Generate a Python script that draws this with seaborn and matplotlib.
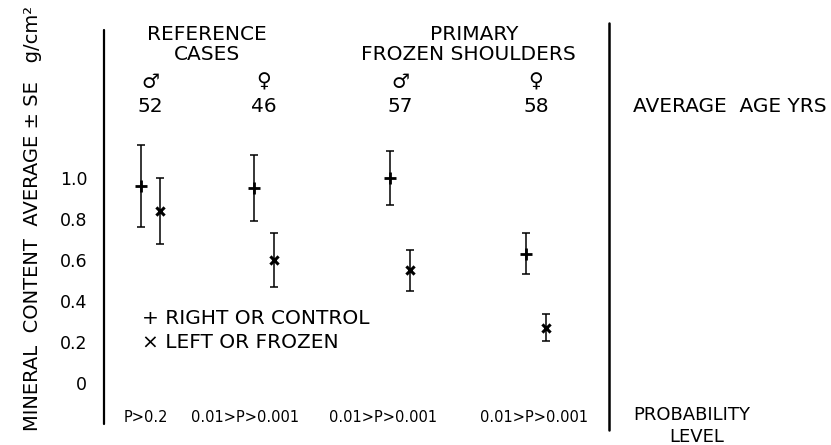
import matplotlib
matplotlib.use("Agg")
import matplotlib.pyplot as plt
import seaborn as sns
import pandas as pd
import numpy as np

# ---- data ----
groups = ["REF_M", "REF_F", "FROZ_M", "FROZ_F"]
sex_symbols = ["♂", "♀", "♂", "♀"]
ages = ["52", "46", "57", "58"]
right_mean = [0.96, 0.95, 1.00, 0.63]
right_se = [0.20, 0.16, 0.13, 0.10]
left_mean = [0.84, 0.60, 0.55, 0.27]
left_se = [0.16, 0.13, 0.10, 0.065]
p_levels = ["P>0.2", "0.01>P>0.001", "0.01>P>0.001", "0.01>P>0.001"]
ytick_vals = [0, 0.2, 0.4, 0.6, 0.8, 1.0]
ytick_labels = ["0", "0.2", "0.4", "0.6", "0.8", "1.0"]

# ---- layout ----
group_pos = [0.0, 1.0, 2.2, 3.4]
pair_offset = 0.088

sns.set_style("white")
plt.rcParams["font.family"] = ["DejaVu Sans"]
plt.rcParams["text.color"] = "black"
plt.rcParams["ytick.color"] = "black"
plt.rcParams["ytick.labelcolor"] = "black"

W, H = 831, 445
fig = plt.figure(figsize=(W / 100, H / 100), dpi=100)
ax_left, ax_right, ax_top, ax_bot = 104, 609, 23, 430
ax = fig.add_axes([ax_left / W, 1 - ax_bot / H, (ax_right - ax_left) / W, (ax_bot - ax_top) / H])

px_per_unit_x = 113.4
cx0 = 150.5
ax.set_xlim((ax_left - cx0) / px_per_unit_x, (ax_right - cx0) / px_per_unit_x)
zero_y, px_per_unit_y = 383, 205
ax.set_ylim(-(ax_bot - zero_y) / px_per_unit_y, (zero_y - ax_top) / px_per_unit_y)

rows = []
for i, g in enumerate(groups):
    rows.append(dict(group=g, side="right", xpos=group_pos[i] - pair_offset, mean=right_mean[i], se=right_se[i]))
    rows.append(dict(group=g, side="left", xpos=group_pos[i] + pair_offset, mean=left_mean[i], se=left_se[i]))
df = pd.DataFrame(rows)

ax.errorbar(df["xpos"], df["mean"], yerr=df["se"], fmt="none", ecolor="black",
            elinewidth=1.1, capsize=3.2, capthick=1.1)
sns.scatterplot(data=df[df.side == "right"], x="xpos", y="mean", marker="+", color="black",
                s=80, linewidth=2.0, ax=ax, legend=False, zorder=5)
sns.scatterplot(data=df[df.side == "left"], x="xpos", y="mean", marker="x", color="black",
                s=35, linewidth=2.2, ax=ax, legend=False, zorder=5)

for s in ax.spines.values():
    s.set_visible(False)
ax.set_xticks([])
ax.set_xlabel("")
ax.set_ylabel("")
ax.set_yticks(ytick_vals)
ax.set_yticklabels(ytick_labels, fontsize=12.5)
ax.tick_params(axis="y", length=0, pad=12)

# vertical rules
ax.axvline(ax.get_xlim()[0], ymin=(ax_bot - 424) / (ax_bot - ax_top), ymax=(ax_bot - 30) / (ax_bot - ax_top),
           color="black", lw=1.6, clip_on=False)
ax.axvline(ax.get_xlim()[1], ymin=0, ymax=1, color="black", lw=1.8, clip_on=False)

def yv(px):
    return (zero_y - px) / px_per_unit_y

fs = 14.5
# headers
ax.text((group_pos[0] + group_pos[1]) / 2, yv(35), "REFERENCE", ha="center", va="center", fontsize=fs)
ax.text((group_pos[0] + group_pos[1]) / 2, yv(55), "CASES", ha="center", va="center", fontsize=fs)
ax.text((group_pos[2] + group_pos[3]) / 2 + 0.05, yv(35), "PRIMARY", ha="center", va="center", fontsize=fs)
ax.text((group_pos[2] + group_pos[3]) / 2, yv(55), "FROZEN SHOULDERS", ha="center", va="center", fontsize=fs)
for i in range(len(groups)):
    ax.text(group_pos[i], yv(82), sex_symbols[i], ha="center", va="center", fontsize=fs, fontweight="bold")
    ax.text(group_pos[i], yv(107), ages[i], ha="center", va="center", fontsize=fs)

p_shift = [-0.04, -0.17, -0.15, -0.02]
for i in range(len(groups)):
    ax.text(group_pos[i] + p_shift[i], yv(417), p_levels[i], ha="center", va="center", fontsize=10.5)

# legend text
lx = (142 - cx0) / px_per_unit_x
ax.text(lx, yv(318), "+ RIGHT OR CONTROL", ha="left", va="center", fontsize=fs)
ax.text(lx, yv(343), "× LEFT OR FROZEN", ha="left", va="center", fontsize=fs)

# right-side annotations
fig.text(633 / W, 1 - 107 / H, "AVERAGE  AGE YRS", ha="left", va="center", fontsize=fs)
fig.text(633 / W, 1 - 415 / H, "PROBABILITY", ha="left", va="center", fontsize=13)
fig.text(697 / W, 1 - 437 / H, "LEVEL", ha="center", va="center", fontsize=13)

# y label
fig.text(33 / W, 1 - 218 / H, "MINERAL  CONTENT  AVERAGE ± SE   g/cm²", rotation=90,
         ha="center", va="center", fontsize=14)

fig.savefig("out.png", dpi=100)
